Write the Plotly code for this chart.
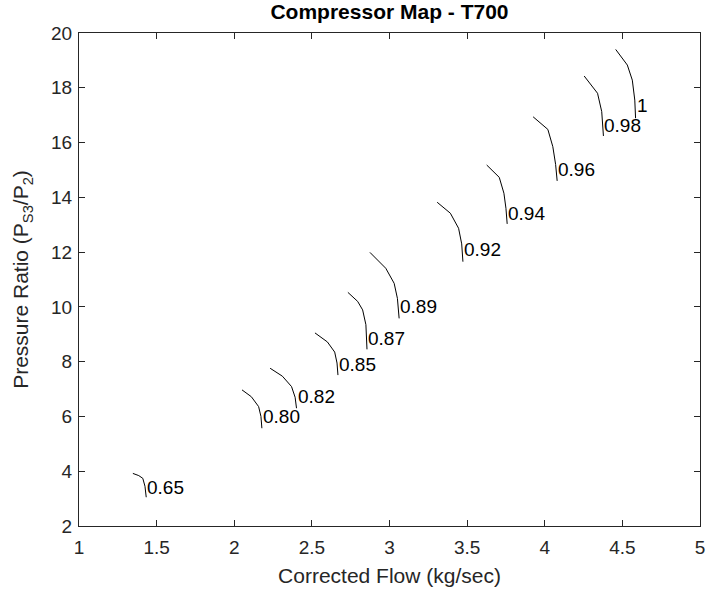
import plotly.graph_objects as go

# Corrected speed labels
speed_labels = ["0.65", "0.80", "0.82", "0.85", "0.87", "0.89", "0.92", "0.94", "0.96", "0.98", "1"]

# Speed-line data (corrected flow kg/s, pressure ratio)
flow_065 = [1.347, 1.385, 1.411, 1.425, 1.433]
pr_065 = [3.92, 3.84, 3.74, 3.45, 3.05]
flow_080 = [2.050, 2.110, 2.157, 2.172, 2.178]
pr_080 = [6.97, 6.72, 6.36, 6.00, 5.57]
flow_082 = [2.231, 2.310, 2.369, 2.392, 2.401]
pr_082 = [7.76, 7.47, 7.09, 6.70, 6.30]
flow_085 = [2.520, 2.600, 2.647, 2.662, 2.668]
pr_085 = [9.05, 8.72, 8.35, 7.95, 7.51]
flow_087 = [2.732, 2.795, 2.827, 2.848, 2.855]
pr_087 = [10.53, 10.20, 9.89, 9.35, 8.45]
flow_089 = [2.874, 2.976, 3.030, 3.051, 3.062]
pr_089 = [11.99, 11.41, 10.86, 10.31, 9.58]
flow_092 = [3.307, 3.392, 3.445, 3.465, 3.473]
pr_092 = [13.82, 13.42, 12.87, 12.30, 11.65]
flow_094 = [3.626, 3.707, 3.737, 3.750, 3.758]
pr_094 = [15.18, 14.73, 14.15, 13.60, 13.03]
flow_096 = [3.925, 4.020, 4.052, 4.070, 4.080]
pr_096 = [16.94, 16.48, 15.85, 15.20, 14.60]
flow_098 = [4.254, 4.340, 4.367, 4.374, 4.378]
pr_098 = [18.43, 17.80, 17.13, 16.70, 16.24]
flow_100 = [4.457, 4.532, 4.564, 4.580, 4.585]
pr_100 = [19.40, 18.83, 18.28, 17.55, 16.89]

# Label anchor y values (data units), placed at end flow of each line
label_pr = [3.39, 5.99, 6.72, 7.88, 8.85, 10.01, 12.08, 13.42, 15.0, 16.64, 17.37]

flows = [flow_065, flow_080, flow_082, flow_085, flow_087, flow_089,
         flow_092, flow_094, flow_096, flow_098, flow_100]
prs = [pr_065, pr_080, pr_082, pr_085, pr_087, pr_089,
       pr_092, pr_094, pr_096, pr_098, pr_100]

x_ticks = [1, 1.5, 2, 2.5, 3, 3.5, 4, 4.5, 5]
x_ticktext = ["1", "1.5", "2", "2.5", "3", "3.5", "4", "4.5", "5"]
y_ticks = [2, 4, 6, 8, 10, 12, 14, 16, 18, 20]

FONT = "Liberation Sans, Arial, sans-serif"
AX = "#262626"

fig = go.Figure()
for fx, py, lab in zip(flows, prs, speed_labels):
    fig.add_trace(go.Scatter(x=fx, y=py, mode="lines",
                             line=dict(color="black", width=1),
                             showlegend=False, hoverinfo="skip"))

for fx, ly, lab in zip(flows, label_pr, speed_labels):
    fig.add_annotation(x=fx[-1], y=ly, text=lab, showarrow=False,
                       xanchor="left", yanchor="middle", xshift=-1,
                       font=dict(family=FONT, size=19, color="black"))

fig.update_layout(
    width=711, height=590,
    margin=dict(l=79, r=6, t=33, b=64),
    plot_bgcolor="white", paper_bgcolor="white",
    font=dict(family=FONT, size=19, color=AX),
    title=dict(text="<b>Compressor Map - T700</b>", x=0.5, xref="paper",
               xanchor="center", y=1 - 12 / 590, yanchor="middle",
               font=dict(family=FONT, size=21, color="black")),
    xaxis=dict(range=[1, 5], tickvals=x_ticks, ticktext=x_ticktext,
               ticks="inside", ticklen=6, tickcolor=AX, tickwidth=1,
               showline=True, linecolor=AX, linewidth=1, mirror="ticks",
               showgrid=False, zeroline=False, ticklabelstandoff=4,
               tickfont=dict(family=FONT, size=19, color=AX),
               title=dict(text="Corrected Flow (kg/sec)", standoff=11,
                          font=dict(family=FONT, size=21, color=AX))),
    yaxis=dict(range=[2, 20], tickvals=y_ticks,
               ticks="inside", ticklen=6, tickcolor=AX, tickwidth=1,
               showline=True, linecolor=AX, linewidth=1, mirror="ticks",
               showgrid=False, zeroline=False, ticklabelstandoff=2,
               tickfont=dict(family=FONT, size=19, color=AX),
               title=dict(text="Pressure Ratio (P<sub>S3</sub>/P<sub>2</sub>)", standoff=16,
                          font=dict(family=FONT, size=21, color=AX))),
)

fig.write_html("out.html")
